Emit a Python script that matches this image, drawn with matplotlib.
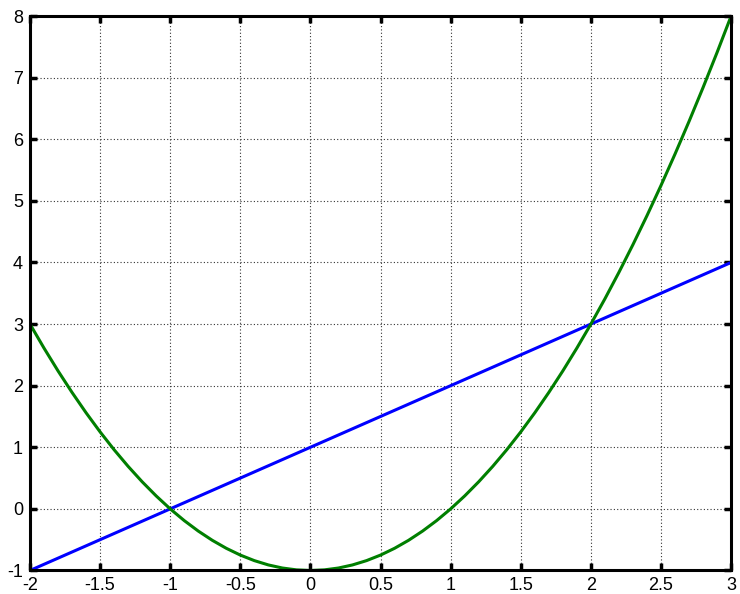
import matplotlib
matplotlib.use('Agg')
import matplotlib.pyplot as plt

plt.rcParams['font.family'] = ['Liberation Sans', 'DejaVu Sans']
plt.rcParams['axes.unicode_minus'] = False

# line: y = x + 1, read at the ends
line_x = [-2.0, 3.0]
line_y = [-1.0, 4.0]

# parabola, every 0.1
curve_x = [-2.0, -1.9, -1.8, -1.7, -1.6, -1.5, -1.4, -1.3, -1.2, -1.1,
           -1.0, -0.9, -0.8, -0.7, -0.6, -0.5, -0.4, -0.3, -0.2, -0.1,
           0.0, 0.1, 0.2, 0.3, 0.4, 0.5, 0.6, 0.7, 0.8, 0.9,
           1.0, 1.1, 1.2, 1.3, 1.4, 1.5, 1.6, 1.7, 1.8, 1.9,
           2.0, 2.1, 2.2, 2.3, 2.4, 2.5, 2.6, 2.7, 2.8, 2.9, 3.0]
curve_y = [3.00, 2.61, 2.24, 1.89, 1.56, 1.25, 0.96, 0.69, 0.44, 0.21,
           0.00, -0.19, -0.36, -0.51, -0.64, -0.75, -0.84, -0.91, -0.96, -0.99,
           -1.00, -0.99, -0.96, -0.91, -0.84, -0.75, -0.64, -0.51, -0.36, -0.19,
           0.00, 0.21, 0.44, 0.69, 0.96, 1.25, 1.56, 1.89, 2.24, 2.61,
           3.00, 3.41, 3.84, 4.29, 4.76, 5.25, 5.76, 6.29, 6.84, 7.41, 8.00]

xticks = [-2, -1.5, -1, -0.5, 0, 0.5, 1, 1.5, 2, 2.5, 3]
xticklabels = ['-2', '-1.5', '-1', '-0.5', '0', '0.5', '1', '1.5', '2', '2.5', '3']
yticks = [-1, 0, 1, 2, 3, 4, 5, 6, 7, 8]

fig = plt.figure(figsize=(7.4, 5.94), dpi=100)
ax = fig.add_axes([0.0405, 0.0396, 0.9475, 0.9334])

ax.plot(line_x, line_y, color='#0000ff', lw=2.2, solid_capstyle='butt')
ax.plot(curve_x, curve_y, color='#007f00', lw=2.2, solid_capstyle='butt')

ax.set_xlim(-2, 3)
ax.set_ylim(-1, 8)
ax.set_xticks(xticks)
ax.set_xticklabels(xticklabels)
ax.set_yticks(yticks)
ax.grid(True, color='#333333', linestyle=(0, (1, 2)), linewidth=0.8)
ax.tick_params(direction='in', length=5, width=2.5, labelsize=13, pad=5,
               top=True, right=True)
for s in ax.spines.values():
    s.set_linewidth(2.2)

fig.savefig('out.png', dpi=100)
